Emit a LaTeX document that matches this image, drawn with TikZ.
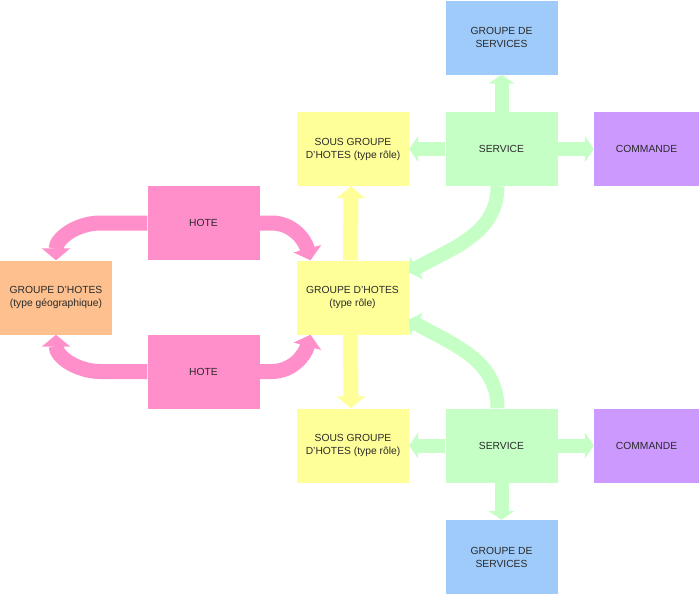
\documentclass[tikz,border=0pt]{standalone}
\usepackage{fontspec}
\setmainfont{Liberation Sans}
\usetikzlibrary{arrows.meta}
\definecolor{ink}{HTML}{2A2A2A}
\definecolor{geofill}{HTML}{FDC08E}
\definecolor{hotefill}{HTML}{FF8FCB}
\definecolor{rolefill}{HTML}{FFFF99}
\definecolor{servicefill}{HTML}{C6FFC6}
\definecolor{svcgroupfill}{HTML}{9ECBFA}
\definecolor{cmdfill}{HTML}{CC99FF}

\begin{document}
\begin{tikzpicture}[
  x=1pt, y=-1pt,
  font=\fontsize{10.3}{13}\selectfont,
  box/.style={text=ink, align=center, inner sep=0pt,
    minimum width=112pt, minimum height=74pt},
  geobox/.style={box, fill=geofill},
  hotebox/.style={box, fill=hotefill},
  rolebox/.style={box, fill=rolefill},
  servicebox/.style={box, fill=servicefill},
  svcgroupbox/.style={box, fill=svcgroupfill},
  cmdbox/.style={box, fill=cmdfill, minimum width=105pt},
  hoteflow/.style={draw=hotefill, line width=15pt,
    -{Triangle[width=28pt,length=12pt]}},
  roleflow/.style={draw=rolefill, line width=15pt,
    -{Triangle[width=28pt,length=12pt]}},
  serviceflow/.style={draw=servicefill, line width=14pt,
    -{Triangle[width=26pt,length=9pt]}}
]
\useasboundingbox (0,0) rectangle (700,595);

% ---------------------------------------------------------------------------
% hosts and host groups
% ---------------------------------------------------------------------------
\node[geobox] (geo) at (56,297.5) {GROUPE D'HOTES\\(type géographique)};
\node[hotebox] (hoteA) at (203.5,223) {HOTE};
\node[hotebox] (hoteB) at (203.5,371.5) {HOTE};
\node[rolebox] (role) at (352.5,297.5) {GROUPE D'HOTES\\(type rôle)};
\node[rolebox] (subA) at (353,149) {SOUS GROUPE\\D'HOTES (type rôle)};
\node[rolebox] (subB) at (353,445.5) {SOUS GROUPE\\D'HOTES (type rôle)};

% ---------------------------------------------------------------------------
% services, service groups and commands
% ---------------------------------------------------------------------------
\node[servicebox] (svcA) at (501.5,149) {SERVICE};
\node[servicebox] (svcB) at (501.5,445.5) {SERVICE};
\node[svcgroupbox] (grpA) at (501.5,37.5) {GROUPE DE\\SERVICES};
\node[svcgroupbox] (grpB) at (501.5,557) {GROUPE DE\\SERVICES};
\node[cmdbox] (cmdA) at (646.5,149) {COMMANDE};
\node[cmdbox] (cmdB) at (646.5,445.5) {COMMANDE};

% host links
\draw[hoteflow] (hoteA.west) -- ++(-47,0) to[out=180,in=90] (geo.north);
\draw[hoteflow] (hoteA.east) -- ++(12,0) to[out=0,in=105] ([xshift=-42pt]role.north);
\draw[hoteflow] (hoteB.west) -- ++(-47,0) to[out=180,in=-90] (geo.south);
\draw[hoteflow] (hoteB.east) -- ++(12,0) to[out=0,in=-105] ([xshift=-42pt]role.south);

% sub groups
\draw[roleflow] ([xshift=-2pt]role.north) -- ([xshift=-2pt]subA.south);
\draw[roleflow] ([xshift=-2pt]role.south) -- ([xshift=-2pt]subB.north);

% service links
\draw[serviceflow] (svcA.north) -- (grpA.south);
\draw[serviceflow] (svcA.west) -- (subA.east);
\draw[serviceflow] (svcA.east) -- (cmdA.west);
\draw[serviceflow] ([xshift=-4pt]svcA.south) to[out=-90,in=30] ([yshift=25pt]role.east);
\draw[serviceflow] (svcB.south) -- (grpB.north);
\draw[serviceflow] (svcB.west) -- (subB.east);
\draw[serviceflow] (svcB.east) -- (cmdB.west);
\draw[serviceflow] ([xshift=-4pt]svcB.north) to[out=90,in=-30] ([yshift=-22pt]role.east);
\end{tikzpicture}
\end{document}
